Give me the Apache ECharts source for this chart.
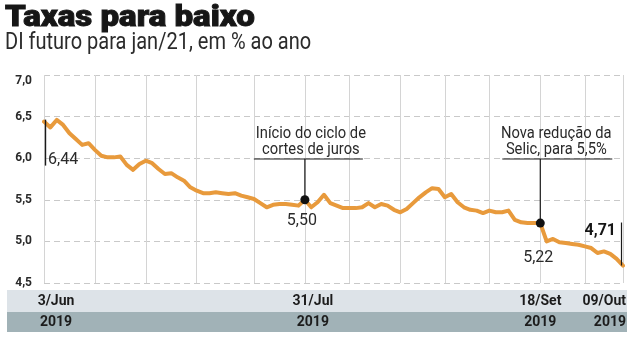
<!DOCTYPE html>
<html>
<head>
<meta charset="utf-8">
<script src="https://cdn.jsdelivr.net/npm/echarts@6/dist/echarts.min.js"></script>
<style>
  html, body { margin: 0; padding: 0; background: #fff; }
  #chart { width: 638px; height: 350px; }
</style>
</head>
<body>
<div id="chart"></div>
<script>
// DI futuro jan/21, % a.a., one value per trading session (3/Jun/2019 .. 09/Out/2019)
const rates = [
  6.44, 6.37, 6.46, 6.40, 6.30, 6.23, 6.16, 6.18, 6.10, 6.03,
  6.01, 6.01, 6.02, 5.92, 5.86, 5.93, 5.97, 5.94, 5.87, 5.81,
  5.82, 5.77, 5.73, 5.65, 5.61, 5.58, 5.58, 5.59, 5.58, 5.57,
  5.58, 5.55, 5.53, 5.51, 5.46, 5.41, 5.44, 5.45, 5.45, 5.44,
  5.43, 5.50, 5.41, 5.47, 5.56, 5.46, 5.43, 5.40, 5.40, 5.40,
  5.41, 5.46, 5.41, 5.45, 5.43, 5.38, 5.35, 5.39, 5.46, 5.53,
  5.59, 5.64, 5.63, 5.53, 5.57, 5.47, 5.41, 5.38, 5.37, 5.34,
  5.37, 5.35, 5.35, 5.37, 5.26, 5.23, 5.22, 5.22, 5.22, 5.00,
  5.03, 4.99, 4.98, 4.97, 4.96, 4.94, 4.92, 4.86, 4.88, 4.85,
  4.79, 4.71
];
const sessions = rates.map((_, i) => i);

// sessions where the vertical guide lines fall
const gridSessions = [0, 8, 16, 24, 33, 41, 48, 56, 63, 70, 78, 85, 91];

// dates shown in the footer band
const labelSessions = [0, 41, 78, 91];
const dateLabels = ['3/Jun', '31/Jul', '18/Set', '09/Out'];
const yearLabels = ['2019', '2019', '2019', '2019'];

// y-axis ticks
const yMin = 4.5, yMax = 7.0, yStep = 0.5;

// highlighted events
const eventSessions = [41, 78];
const eventTexts = [
  ['Início do ciclo de', 'cortes de juros'],
  ['Nova redução da', 'Selic, para 5,5%']
];

const fmt = (v, d) => v.toFixed(d).replace('.', ',');

const FONT = 'Roboto, "Noto Sans", sans-serif';
const ORANGE = '#e89a3c';
const INK = '#1e1e1e';

const chart = echarts.init(document.getElementById('chart'), null, { renderer: 'canvas' });

chart.setOption({
  animation: false,
  backgroundColor: '#ffffff',
  grid: { left: 44, right: 15, top: 75, bottom: 67 },
  xAxis: {
    type: 'category',
    data: sessions,
    boundaryGap: false,
    axisLine: { show: false },
    axisTick: { show: false },
    axisLabel: { show: false },
    splitLine: {
      show: true,
      interval: (i) => gridSessions.includes(i),
      lineStyle: { color: '#d4d4d4', width: 1 }
    }
  },
  yAxis: {
    type: 'value',
    min: yMin, max: yMax, interval: yStep,
    axisLine: { show: false },
    axisTick: { show: false },
    axisLabel: {
      formatter: (v) => fmt(v, 1),
      color: '#2a2a2a',
      fontFamily: FONT,
      fontWeight: 'bold',
      fontSize: 12,
      margin: 12,
      verticalAlignMaxLabel: 'top'
    },
    splitLine: { show: true, lineStyle: { color: '#c9c9c9', width: 1, type: [6, 4] } }
  },
  series: [{
    type: 'line',
    data: rates,
    symbol: 'none',
    z: 3,
    lineStyle: { color: ORANGE, width: 4, join: 'round', cap: 'round' }
  }]
});

// overlay: titles, footer band, value callouts, event notes
const px = (i) => chart.convertToPixel({ xAxisIndex: 0, yAxisIndex: 0 }, [i, rates[i]]);

const els = [];
const text = (x, y, str, o) => els.push(Object.assign({
  type: 'text', x, y, z: 20,
  style: Object.assign({ text: str, fill: INK, font: '16px ' + FONT, textAlign: 'left', textVerticalAlign: 'middle' }, o && o.style)
}, o && o.el));
const seg = (x1, y1, x2, y2, w) => els.push({
  type: 'line', z: 19, shape: { x1, y1, x2, y2 }, style: { stroke: '#1a1a1a', lineWidth: w || 1.2 }
});

// titles
text(5, 19, 'Taxas para baixo', { style: { font: '900 29px ' + FONT, fill: '#161616', stroke: '#161616', lineWidth: 0.9 }, el: { scaleX: 1.14 } });
text(5, 43, 'DI futuro para jan/21, em % ao ano', { style: { font: '23px ' + FONT, fill: '#2b2b2b' }, el: { scaleX: 0.87 } });

// footer band
els.push({ type: 'rect', z: 1, shape: { x: 7, y: 290, width: 620, height: 22 }, style: { fill: '#dde3e8' } });
els.push({ type: 'rect', z: 1, shape: { x: 7, y: 312, width: 620, height: 20 }, style: { fill: '#a1b2b7' } });

const footAlign = [
  { dx: 12, yx: 12, align: 'center' },
  { dx: 8, yx: 8, align: 'center' },
  { dx: 0, yx: 0, align: 'center' },
  { dx: 3, yx: 3, align: 'right' }
];
labelSessions.forEach((s, k) => {
  const p = px(s);
  const a = footAlign[k];
  text(p[0] + a.dx, 301.5, dateLabels[k], { style: { font: 'bold 14px ' + FONT, textAlign: a.align, fill: '#1c1c1c' } });
  text(p[0] + a.yx, 322.5, yearLabels[k], { style: { font: 'bold 14px ' + FONT, textAlign: a.align, fill: '#1c1c1c' } });
});

// first value callout
const first = px(0);
seg(first[0] + 1.5, first[1] - 2, first[0] + 1.5, first[1] + 44, 1.4);
text(first[0] + 4, first[1] + 38, fmt(rates[0], 2), { style: { font: '16px ' + FONT, fill: '#2a2a2a' } });

// last value callout
const lastIdx = rates.length - 1;
const last = px(lastIdx);
seg(last[0] - 1.5, last[1] - 43, last[0] - 1.5, last[1], 1.2);
text(last[0] - 7, last[1] - 35, fmt(rates[lastIdx], 2), { style: { font: 'bold 16px ' + FONT, textAlign: 'right', fill: '#161616' } });

// event notes
const noteLayout = [
  { left: 51, right: 58, shift: 6, below: 21, dx: -3 },
  { left: 38, right: 72, shift: 16, below: 35, dx: -2 }
];
eventSessions.forEach((s, k) => {
  const p = px(s);
  const L = noteLayout[k];
  const ruleY = 159;
  seg(p[0], p[1], p[0], ruleY, 1.2);
  seg(p[0] - L.left, ruleY, p[0] + L.right, ruleY, 1.2);
  text(p[0] + L.shift, 133.5, eventTexts[k][0], { style: { textAlign: 'center', fill: '#2a2a2a' }, el: { scaleX: 0.92 } });
  text(p[0] + L.shift, 149.5, eventTexts[k][1], { style: { textAlign: 'center', fill: '#2a2a2a' }, el: { scaleX: 0.92 } });
  els.push({ type: 'circle', z: 21, shape: { cx: p[0], cy: p[1], r: 4.5 }, style: { fill: '#111' } });
  text(p[0] + L.dx, p[1] + L.below, fmt(rates[s], 2), { style: { textAlign: 'center', fill: '#2a2a2a' } });
});

chart.setOption({ graphic: { elements: els } });
</script>
</body>
</html>
